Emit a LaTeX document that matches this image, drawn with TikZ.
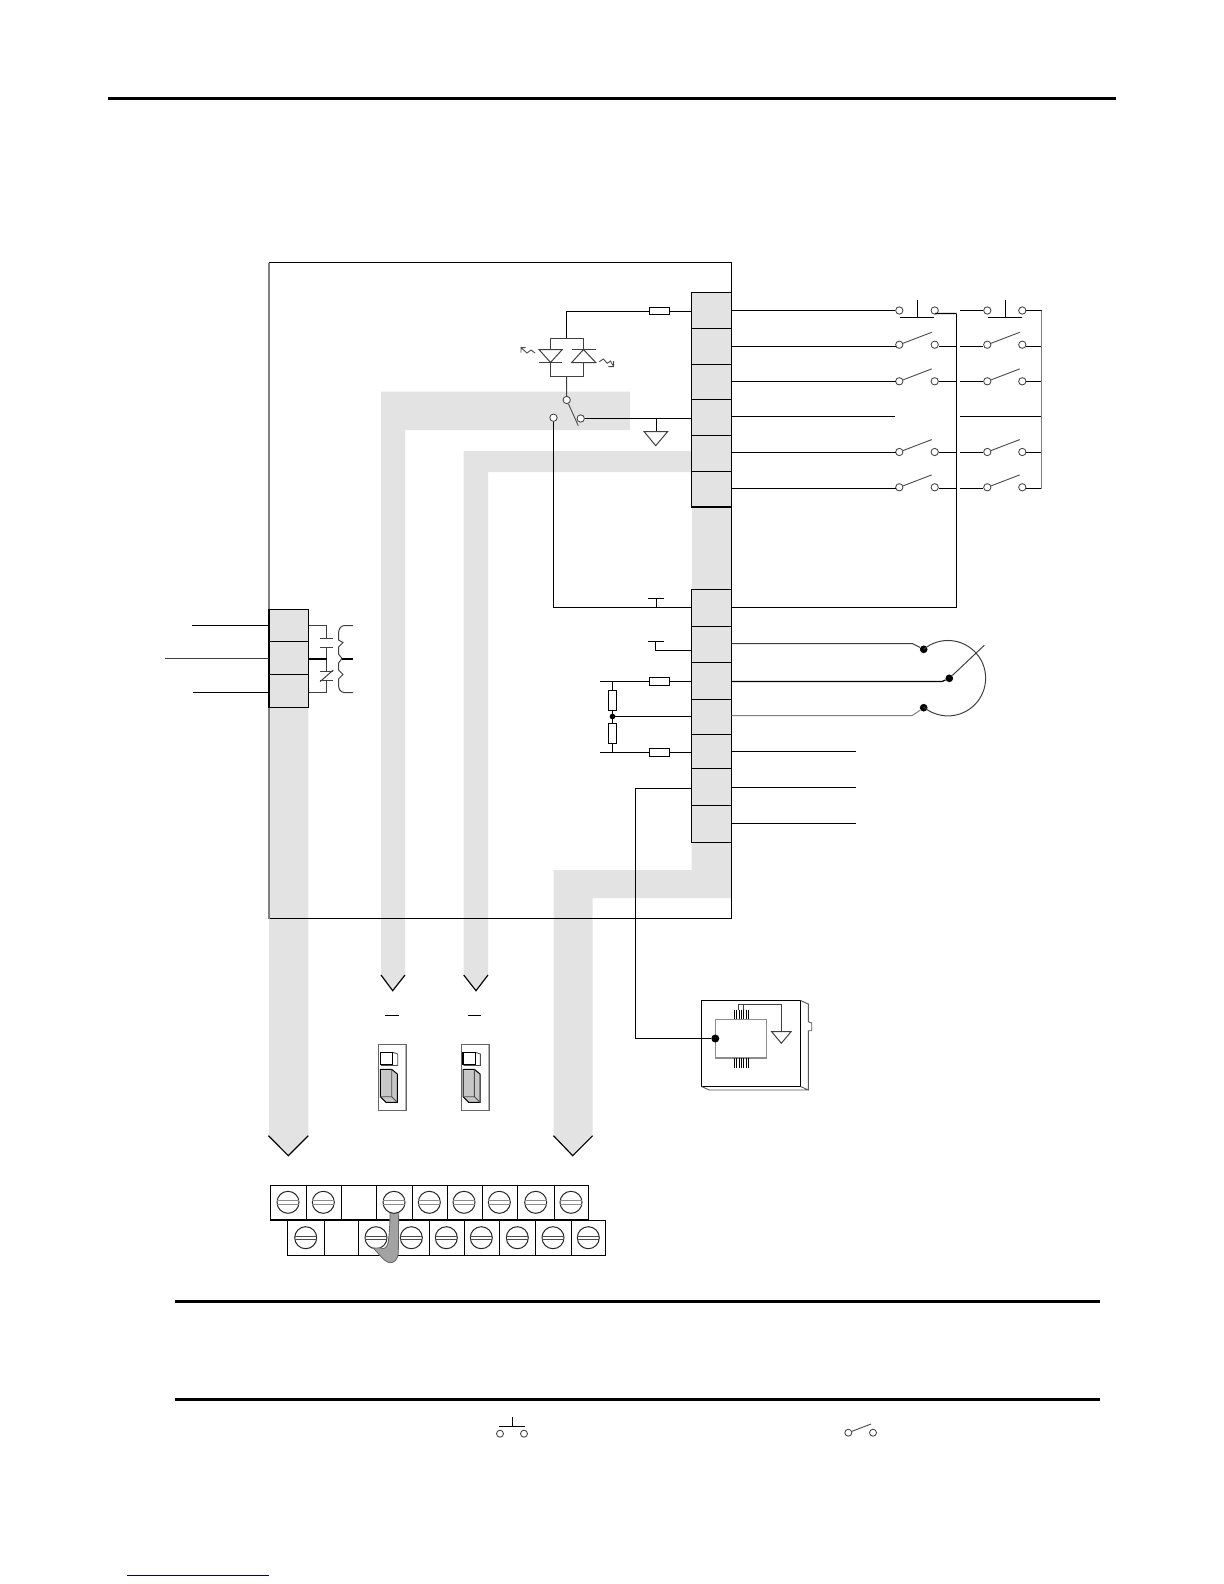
\documentclass[tikz,border=0pt]{standalone}
\begin{document}
\begin{tikzpicture}[x=0.6pt,y=-0.6pt,line join=miter,
  wire/.style={draw=black,line width=0.75pt},
  thinwire/.style={draw=black!75,line width=0.6pt},
  grayline/.style={draw=black!50,line width=0.75pt},
  rulebar/.style={draw=black,line width=1.8pt},
  band/.style={fill=black!11,draw=none},
  chevron/.style={draw=black,line width=0.7pt},
  term/.style={circle,draw=black!75,fill=white,line width=0.5pt,inner sep=0pt,minimum size=4.4pt},
  blackdot/.style={circle,fill=black,inner sep=0pt,minimum size=4.6pt},
  cell/.style={draw=black,line width=0.75pt},
  resistor/.style={draw=black,fill=white,line width=0.6pt},
  screw/.style={circle,draw=black!85,fill=white,line width=0.6pt,inner sep=0pt,minimum size=13.2pt},
  slot/.style={draw=black!45,line width=0.5pt},
  blade/.style={draw=black!70,line width=0.55pt}]
\useasboundingbox (0,0) rectangle (1224,1584);

% ---- gray bands
\fill[band] (269,609) -- (308.3,609) -- (308.3,1135.7) -- (288.3,1155.7) -- (269,1135.7) -- cycle;
\fill[band] (630,391.7) -- (630,430) -- (405,430) -- (405,975) -- (392.7,990.7) -- (381,975) -- (381,391.7) -- cycle;
\fill[band] (691.5,451) -- (691.5,472) -- (488,472) -- (488,975) -- (476,990.7) -- (463.7,975) -- (463.7,451) -- cycle;
\fill[band] (691.5,292.3) rectangle (731.3,842.3);
\fill[band] (731.3,842.3) -- (731.3,898) -- (592.7,898) -- (592.7,1135.7) -- (572.7,1155.7) -- (553.5,1135.7) -- (553.5,870) -- (691.5,870) -- (691.5,842.3) -- cycle;

% ---- top, middle and bottom rules
\draw[rulebar] (108,98.7) -- (1116,98.7);
\draw[rulebar] (175,1301.3) -- (1099.5,1301.3);
\draw[rulebar] (175,1399.3) -- (1099.5,1399.3);
\draw[draw=blue!60!black,line width=0.7pt] (127.3,1575.5) -- (269,1575.5);

% ---- main box
\draw[wire] (269,262.5) -- (731.5,262.5) -- (731.5,918.5) -- (269,918.5);
\draw[grayline,line width=1pt] (269,262.5) -- (269,918.5);

% ---- terminal blocks
\foreach \a/\b in {292.5/328.5,328.5/364.5,364.5/399.5,399.5/435.5,435.5/471.5,471.5/507,
    589.5/626.5,626.5/662.5,662.5/699.5,699.5/734.5,734.5/768.5,768.5/805.5,805.5/842.5}
  \draw[cell] (691.5,\a) rectangle (731.5,\b);
\foreach \a/\b in {609.5/641.5,641.5/674.5,674.5/707.5}
  \draw[cell] (269,\a) rectangle (308.5,\b);

% ---- left incoming lines
\draw[wire] (192,625.5) -- (269,625.5);
\draw[thinwire] (165,658.5) -- (269,658.5);
\draw[wire] (193,692.5) -- (269,692.5);

% ---- relay contacts and coil
\draw[thinwire] (308.5,625.5) -- (326.5,625.5) -- (326.5,638.5);
\draw[thinwire] (320,638.5) -- (332.7,638.5);
\draw[thinwire] (320,647.5) -- (332.7,647.5);
\draw[thinwire] (326.5,647.5) -- (326.5,671.5);
\draw[wire,line width=1.2pt] (308.5,658.7) -- (326.5,658.7);
\draw[thinwire] (320,671.5) -- (332.7,671.5);
\draw[thinwire] (320,681.7) -- (333.3,670);
\draw[thinwire] (320,680.5) -- (332.7,680.5);
\draw[thinwire] (326.5,680.5) -- (326.5,692.5) -- (308.5,692.5);
\draw[thinwire] (353,625.5) -- (344,625.5) .. controls (340,626) and (338.5,630) .. (338.5,634)
   -- (338.5,640) -- (343,642.5) -- (338.5,647) -- (338.5,654) -- (342,658.5)
   -- (338.5,663) -- (338.5,670) -- (343,674.5) -- (338.5,679) -- (338.5,684)
   .. controls (338.5,689) and (340,692) .. (344,692.5) -- (353,692.5);
\draw[wire,line width=1.1pt] (342,658.7) -- (353,658.7);

% ---- opto section
\coordinate (optoTop) at (566.5,338.5);
\coordinate (optoBot) at (566.5,376.5);
\draw[resistor] (649.5,307.5) rectangle (669.5,314.5);
\node[term] (swA) at (566.7,400) {};
\node[term] (swB) at (553.5,417.7) {};
\node[term] (swC) at (580.7,418.5) {};
\coordinate (topEntry) at (691.5,311.5);
\coordinate (gndEntry) at (691.5,418.5);
\coordinate (gndTap) at (656.5,418.5);
\draw[wire] (optoTop) -- (566.5,311.5) -- (649.5,311.5) (669.5,311.5) -- (topEntry);
\draw[thinwire] (550.5,349.5) -- (550.5,338.5) -- (583.5,338.5) -- (583.5,349.5);
\draw[thinwire] (550.5,362.5) -- (550.5,376.5) -- (583.5,376.5) -- (583.5,362.5);
\draw[thinwire] (539,349.5) -- (562.3,349.5) -- (550.5,362.5) -- cycle;
\draw[thinwire] (539,362.5) -- (562.3,362.5);
\draw[thinwire] (571.7,362.5) -- (595.7,362.5) -- (583.5,349.5) -- cycle;
\draw[thinwire] (572,349.5) -- (595.7,349.5);
\draw[blade] (521,352.5) -- (521,347.7) -- (525.5,347.7)
  (521,347.7) -- (527,353) -- (531,350) -- (535,353);
\draw[blade] (599.3,361.7) -- (603.3,359) -- (607.3,363.3) -- (610.5,361) -- (613.7,366.7)
  (613.7,361) -- (613.7,366.7) -- (608.3,366.7);
\draw[thinwire] (optoBot) -- (swA);
\draw[blade] (swA) -- (578.3,425.7);
\draw[wire] (swC) -- (gndEntry);
\draw[wire] (gndTap) -- (656.5,431.5);
\draw[thinwire] (644,431.5) -- (667.7,431.5) -- (655.7,445.7) -- cycle;

% ---- line to second block
\coordinate (b2row1) at (691.5,607.5);
\draw[wire] (swB) -- (553.5,607.5) -- (b2row1);
\draw[wire] (656.5,607.5) -- (656.5,598.5) (648.3,598.5) -- (663.7,598.5);
\draw[wire] (648.3,641.5) -- (663.7,641.5) (655.5,641.5) -- (655.5,650.5) -- (691.5,650.5);

% ---- resistor network
\draw[wire] (600,681.5) -- (691.5,681.5);
\draw[wire] (600,752.5) -- (691.5,752.5);
\draw[wire] (612.5,681.5) -- (612.5,752.5);
\draw[wire] (612.5,716.5) -- (691.5,716.5);
\draw[resistor] (649.5,677.5) rectangle (669.5,685.5);
\draw[resistor] (649.5,748.5) rectangle (669.5,756.5);
\draw[resistor] (608.5,690.5) rectangle (616.5,710.5);
\draw[resistor] (608.5,723.5) rectangle (616.5,743.5);
\node[blackdot,minimum size=3.4pt] (netDot) at (612.5,716.5) {};

% ---- switch field
\foreach \n/\yl/\yc in {r/346.5/344.7,s/381.5/381.3,t/452.5/452,u/488.5/487.3}{
  \node[term] (\n A) at (899.3,\yc) {};
  \node[term] (\n B) at (934.7,\yc) {};
  \node[term] (\n C) at (987.3,\yc) {};
  \node[term] (\n D) at (1022.3,\yc) {};
  \draw[wire] (731.5,\yl) -- (895.7,\yl);
  \draw[wire] (\n B.east |- 0,\yl) -- (956.5,\yl);
  \draw[wire] (960,\yl) -- (\n C.west |- 0,\yl);
  \draw[wire] (\n D.east |- 0,\yl) -- (1041.5,\yl);
  \draw[blade] (\n A) -- ++(32.4,-12.4);
  \draw[blade] (\n C) -- ++(32.4,-12.4);
}
\node[term] (pA) at (899.3,310.5) {};
\node[term] (pB) at (934.7,310.5) {};
\node[term] (pC) at (987.3,310.5) {};
\node[term] (pD) at (1022.3,310.5) {};
\draw[wire] (731.5,310.5) -- (pA);
\draw[wire] (pB) -- (936,313.5) -- (956.5,313.5);
\draw[wire] (960,310.5) -- (pC);
\draw[wire] (pD) -- (1041.5,310.5);
\draw[wire] (900,317.5) -- (934,317.5) (917.5,317.5) -- (917.5,300);
\draw[wire] (988,317.5) -- (1022,317.5) (1005.5,317.5) -- (1005.5,300);
\draw[wire] (731.5,416.5) -- (895,416.5);
\draw[wire] (960,416.5) -- (1041.5,416.5);
\draw[wire] (956.5,313.5) -- (956.5,607.5) -- (731.5,607.5);
\draw[grayline] (1041.5,310.5) -- (1041.5,488.5);

% ---- potentiometer
\node[blackdot] (potT) at (923.7,649.3) {};
\node[blackdot] (potB) at (923.7,707.7) {};
\node[blackdot] (potW) at (949.3,678.3) {};
\draw[thinwire] (731.5,643.5) -- (912.3,643.5) -- (potT);
\draw[wire] (731.5,681.5) -- (942,681.5) -- (potW);
\draw[grayline,line width=0.6pt] (731.5,715.5) -- (912.3,715.5) -- (potB);
\draw[thinwire] (potT.center) arc[start angle=-130,end angle=130,radius=37.7];
\draw[thinwire] (potW) -- (984.3,645.3);

% ---- other outgoing lines
\draw[wire] (731.5,751.5) -- (855.5,751.5);
\draw[wire] (731.5,787.5) -- (855.5,787.5);
\draw[wire] (731.5,823.5) -- (855.5,823.5);

% ---- chevrons
\draw[chevron] (268.5,1135.7) -- (288.3,1155.7) -- (308.3,1135.7);
\draw[chevron] (553.5,1135.7) -- (572.7,1155.7) -- (592.7,1135.7);
\draw[chevron] (381,975) -- (392.7,990.7) -- (405,975);
\draw[chevron] (463.7,975) -- (476,990.7) -- (488,975);
\draw[wire] (385,1015.5) -- (398.7,1015.5);
\draw[wire] (468,1015.5) -- (481,1015.5);

% ---- DIP switches
\foreach \o in {0,82.7}{
  \begin{scope}[xshift=\o*0.6pt]
  \draw[draw=black!60,line width=0.55pt] (378.3,1044.3) rectangle (406.7,1110.7);
  \draw[draw=black!30,line width=0.6pt] (405.3,1045) -- (405.3,1110);
  \draw[draw=black!70,line width=0.5pt] (392.7,1052.3) -- (397.7,1054) -- (397.7,1065.5) -- (381,1065.5);
  \draw[draw=black,fill=white,line width=0.7pt] (380.3,1052.3) rectangle (392.7,1064.3);
  \draw[draw=black,fill=black!22,line width=0.6pt] (380.3,1069.3) -- (391.7,1069.3) -- (397.3,1074) -- (397.3,1102.3) -- (386,1102.3) -- (380.3,1096.7) -- cycle;
  \draw[draw=black!70,line width=0.5pt] (391.7,1069.3) -- (391.7,1096.7) -- (380.3,1096.7) (391.7,1096.7) -- (397.3,1102.3);
  \end{scope}
}

% ---- module box
\draw[wire] (701.5,1000.5) rectangle (800.5,1086.5);
\draw[draw=black!65,line width=0.55pt] (800.5,1000.5) -- (808.3,1004) -- (808.3,1021.7) -- (811.7,1023) -- (811.7,1030.7) -- (808.3,1030.7) -- (808.3,1090) -- (800.5,1086.5)
   (701.5,1086.5) -- (709.3,1090) -- (808.3,1090);
\draw[draw=black!45,line width=0.7pt] (715.3,1019.3) rectangle (766.3,1058);
\foreach \x in {734.5,736.8,739.1,741.4,743.7,746,748.3}
  \draw[draw=black,line width=0.5pt] (\x,1009.5) -- (\x,1019.3) (\x,1058) -- (\x,1068.3);
\draw[thinwire] (738.3,1009.5) -- (738.3,1004) -- (781.3,1004) -- (781.3,1031.7);
\draw[thinwire] (743,1009.5) -- (743,1004);
\draw[thinwire] (771.7,1031.7) -- (791,1031.7) -- (781.3,1043.3) -- cycle;
\node[blackdot,minimum size=4.8pt] (modDot) at (715.3,1038.5) {};
\draw[wire] (691.5,788.5) -- (635.5,788.5) -- (635.5,1038.5) -- (modDot);

% ---- terminal strip
\foreach \a/\b in {270.5/306.5,306.5/341.5,341.5/376.5,376.5/412.5,412.5/447.5,447.5/482.5,482.5/517.5,517.5/554.5,554.5/588.5}
  \draw[cell] (\a,1185.5) rectangle (\b,1220);
\foreach \a/\b in {287.5/324.5,324.5/358.5,358.5/394.5,394.5/429.5,429.5/464.5,464.5/499.5,499.5/535.5,535.5/571.5,571.5/605.5}
  \draw[cell] (\a,1220.5) rectangle (\b,1255.5);
\foreach \x [count=\i] in {305.7,376,411.3,446.3,481.3,517.3,553,588.3}{
  \node[screw] (lo\i) at (\x,1237.7) {};
  \draw[draw=black!70,line width=0.45pt] (\x-11,1236.2) -- (\x+11,1236.2) (\x-11,1239.2) -- (\x+11,1239.2);
}
\draw[draw=black!60,fill=black!36,line width=0.5pt] (390,1212) -- (398.7,1212) -- (398.3,1252)
  .. controls (398,1260) and (394,1263.5) .. (388.5,1262.5)
  .. controls (384,1261) and (378,1253) .. (373.3,1248)
  -- (380.7,1248) .. controls (384,1250) and (387,1247) .. (388,1243)
  .. controls (389.5,1235) and (390,1222) .. (390,1212) -- cycle;
\foreach \x [count=\i] in {288,323.3,394,429.3,464,499.3,535.7,571}{
  \node[screw] (up\i) at (\x,1202.3) {};
  \draw[slot] (\x-11,1200.6) -- (\x+11,1200.6) (\x-11,1204) -- (\x+11,1204);
}

% ---- legend
\node[term,minimum size=4.2pt] (lgA) at (500,1433.7) {};
\node[term,minimum size=4.2pt] (lgB) at (524,1433.7) {};
\draw[wire] (499,1426.5) -- (524.7,1426.5) (512.5,1426.5) -- (512.5,1417.3);
\node[term,minimum size=4.2pt] (lgC) at (848.3,1432.7) {};
\node[term,minimum size=4.2pt] (lgD) at (873,1432.7) {};
\draw[blade] (lgC) -- (871,1424);
\end{tikzpicture}
\end{document}
